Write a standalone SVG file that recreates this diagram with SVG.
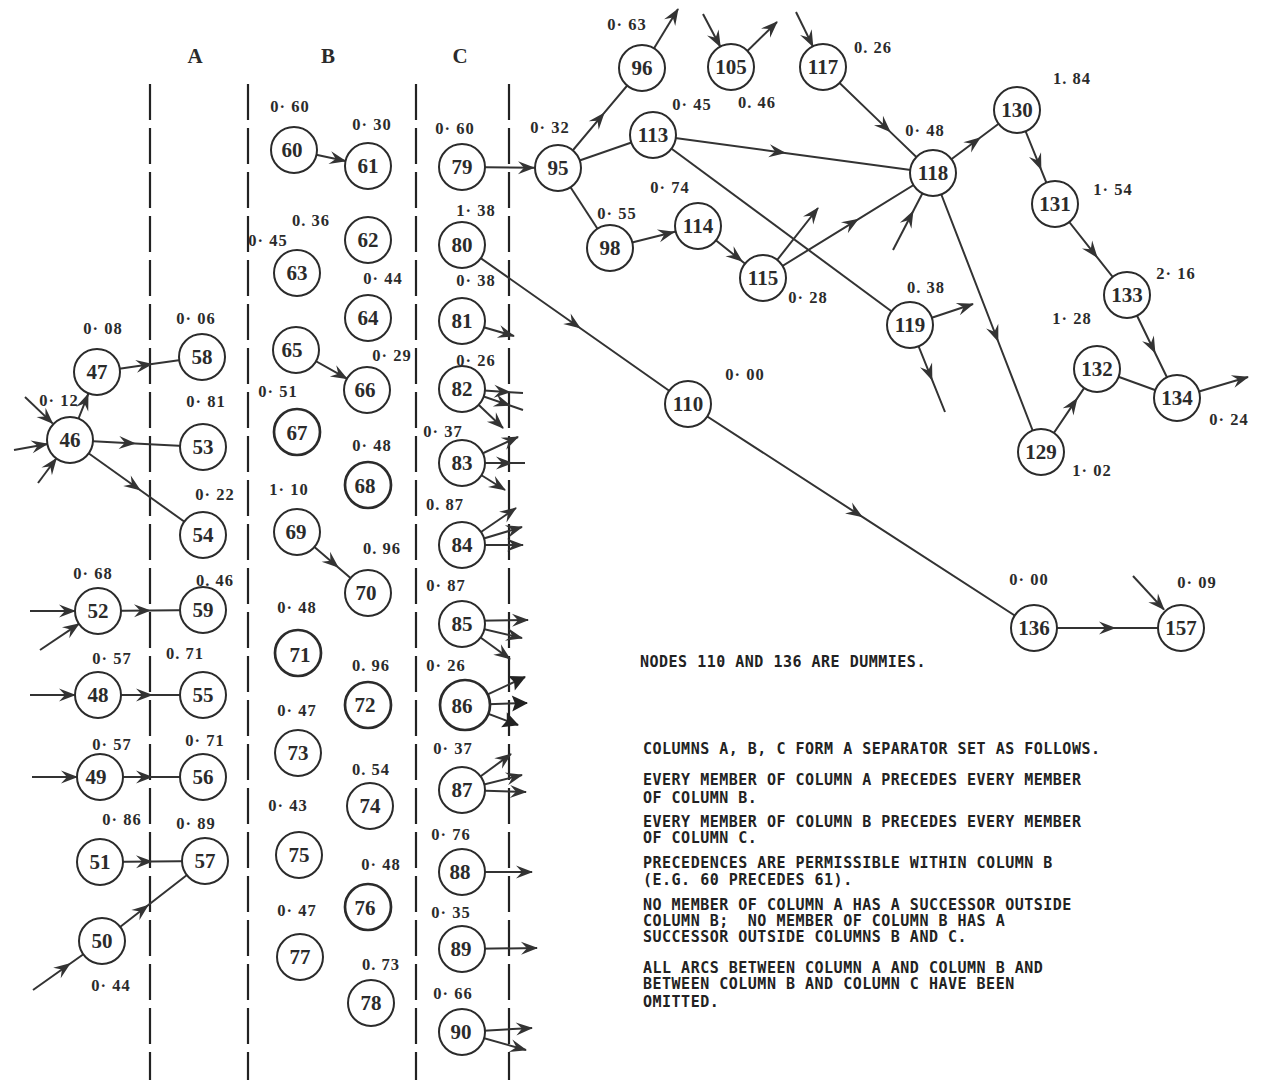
<svg xmlns="http://www.w3.org/2000/svg" width="1262" height="1080" viewBox="0 0 1262 1080">
<style>
.n circle{fill:#fff;stroke:#2b2b2b;stroke-width:2}
.n.t circle{stroke-width:2.7}
.n text{font-family:"Liberation Serif",serif;font-weight:bold;font-size:21px;fill:#2b2b2b;text-anchor:middle}
.e{fill:none;stroke:#333;stroke-width:2}
.m{marker-mid:url(#ah)}
.x{marker-end:url(#ah)}
.xb{marker-end:url(#ab)}
.w{font-family:"Liberation Serif",serif;font-weight:bold;font-size:16.5px;fill:#2b2b2b;text-anchor:middle;letter-spacing:1px}
.col{font-family:"Liberation Serif",serif;font-weight:bold;font-size:21px;fill:#2b2b2b;text-anchor:middle}
.d{stroke:#222;stroke-width:2.2;stroke-dasharray:36 8;fill:none}
.note{font-family:"DejaVu Sans Mono",monospace;font-weight:bold;font-size:15px;fill:#222;letter-spacing:0.5px}
</style>
<defs>
<marker id="ah" viewBox="-18 -9 20 18" refX="0" refY="0" markerWidth="20" markerHeight="18" markerUnits="userSpaceOnUse" orient="auto"><path d="M1,0 L-16,-6.5 L-10,0 L-16,6.5 Z" fill="#333"/></marker>
<marker id="ab" viewBox="-18 -10 20 20" refX="0" refY="0" markerWidth="20" markerHeight="20" markerUnits="userSpaceOnUse" orient="auto"><path d="M1,0 L-15,-8 L-12,0 L-15,8 Z" fill="#222"/></marker>
</defs>
<rect width="1262" height="1080" fill="#fff"/>

<g id="columns">
<line class="d" x1="150" y1="84" x2="150" y2="1080"/>
<line class="d" x1="248" y1="84" x2="248" y2="1080"/>
<line class="d" x1="416" y1="84" x2="416" y2="1080"/>
<line class="d" x1="509" y1="84" x2="509" y2="1080"/>
<text class="col" x="195" y="63">A</text>
<text class="col" x="328" y="63">B</text>
<text class="col" x="460" y="63">C</text>
</g>

<g id="connectors">
<path class="e m" d="M70,440 L88.1,394.3 L97,372"/>
<path class="e m" d="M97,372 L152,364.1 L202,357"/>
<path class="e m" d="M70,440 L135,443.4 L203,447"/>
<path class="e m" d="M70,440 L140,490 L203,535"/>
<path class="e x" d="M25,397 L52.6,423.4"/>
<path class="e x" d="M14,450 L47.4,444"/>
<path class="e x" d="M38,483 L56.3,458.5"/>
<path class="e m" d="M98,611 L150,610.5 L203,610"/>
<path class="e x" d="M30,611 L75,611"/>
<path class="e x" d="M40,650 L78.9,623.8"/>
<path class="e m" d="M98,695 L152,695 L203,695"/>
<path class="e x" d="M30,695 L75,695"/>
<path class="e m" d="M100,777 L152,777 L203,777"/>
<path class="e x" d="M32,777 L77,777"/>
<path class="e m" d="M100,862 L152,861.5 L205,861"/>
<path class="e m" d="M102,941 L148,905.3 L205,861"/>
<path class="e m" d="M33,990 L70,963.7 L102,941"/>

<path class="e m" d="M294,150 L345.5,161.1 L368,166"/>
<path class="e m" d="M296,350 L347,378.7 L367,390"/>
<path class="e m" d="M297,532 L338,567.2 L368,593"/>

<path class="e m" d="M462,167 L534,167.8 L558,168"/>
<path class="e m" d="M462,245 L580,328 L688,404"/>
<path class="e x" d="M462,321 L514,336"/>
<path class="e m" d="M462,389 L510,392.2 L523,393"/>
<path class="e m" d="M462,389 L510,405.5 L523,410"/>
<path class="e x" d="M462,389 L503,428"/>
<path class="e x" d="M462,463 L518,437"/>
<path class="e m" d="M462,463 L512,463 L525,463"/>
<path class="e x" d="M462,463 L505,490"/>
<path class="e x" d="M462,545 L516,508"/>
<path class="e x" d="M462,545 L522,527"/>
<path class="e x" d="M462,545 L523,545"/>
<path class="e x" d="M462,621 L528,620"/>
<path class="e x" d="M462,624 L522,638"/>
<path class="e x" d="M462,624 L510,659"/>
<path class="e xb" d="M465,705 L525,677"/>
<path class="e xb" d="M465,705 L527,703"/>
<path class="e xb" d="M465,705 L518,725"/>
<path class="e x" d="M462,790 L511,754"/>
<path class="e x" d="M462,790 L522,775"/>
<path class="e x" d="M462,790 L526,792"/>
<path class="e x" d="M462,872 L532,872"/>
<path class="e x" d="M462,949 L537,948"/>
<path class="e x" d="M462,1032 L532,1028"/>
<path class="e x" d="M462,1032 L526,1050"/>

<path class="e m" d="M558,168 L604,113.2 L642,68"/>
<path class="e" d="M558,168 L653,135"/>
<path class="e" d="M558,168 L610,248"/>
<path class="e x" d="M642,68 L678,9"/>
<path class="e x" d="M703,14 L720.3,46.7"/>
<path class="e x" d="M731,67 L777,22"/>
<path class="e x" d="M796,12 L812.9,46.4"/>
<path class="e m" d="M823,67 L890,131.6 L933,173"/>
<path class="e m" d="M653,135 L785,152.9 L933,173"/>
<path class="e" d="M653,135 L910,325"/>
<path class="e m" d="M610,248 L674,232 L698,226"/>
<path class="e m" d="M698,226 L742,261.2 L763,278"/>
<path class="e x" d="M763,278 L818,208"/>
<path class="e m" d="M763,278 L858,219.3 L933,173"/>
<path class="e m" d="M893,250 L913,211.5 L933,173"/>
<path class="e m" d="M933,173 L980,137.8 L1017,110"/>
<path class="e m" d="M1017,110 L1041,169.4 L1055,204"/>
<path class="e m" d="M1055,204 L1097,257.1 L1127,295"/>
<path class="e m" d="M1127,295 L1155,352.7 L1177,398"/>
<path class="e" d="M1097,369 L1177,398"/>
<path class="e x" d="M1177,398 L1248,377"/>
<path class="e m" d="M1041,452 L1077,398.6 L1097,369"/>
<path class="e m" d="M933,173 L998,341 L1041,452"/>
<path class="e x" d="M910,325 L973,304"/>
<path class="e m" d="M910,325 L932,379.7 L945,412"/>
<path class="e m" d="M688,404 L862,516.7 L1034,628"/>
<path class="e m" d="M1034,628 L1115,628 L1181,628"/>
<path class="e x" d="M1133,576 L1164,609.6"/>
</g>

<g id="n46" class="n"><circle cx="70" cy="440" r="23"/><text x="70" y="447">46</text></g>
<g id="n47" class="n"><circle cx="97" cy="372" r="23"/><text x="97" y="379">47</text></g>
<g id="n58" class="n"><circle cx="202" cy="357" r="23"/><text x="202" y="364">58</text></g>
<g id="n53" class="n"><circle cx="203" cy="447" r="23"/><text x="203" y="454">53</text></g>
<g id="n54" class="n"><circle cx="203" cy="535" r="23"/><text x="203" y="542">54</text></g>
<g id="n52" class="n"><circle cx="98" cy="611" r="23"/><text x="98" y="618">52</text></g>
<g id="n59" class="n"><circle cx="203" cy="610" r="23"/><text x="203" y="617">59</text></g>
<g id="n48" class="n"><circle cx="98" cy="695" r="23"/><text x="98" y="702">48</text></g>
<g id="n55" class="n"><circle cx="203" cy="695" r="23"/><text x="203" y="702">55</text></g>
<g id="n49" class="n"><circle cx="100" cy="777" r="23"/><text x="96" y="784">49</text></g>
<g id="n56" class="n"><circle cx="203" cy="777" r="23"/><text x="203" y="784">56</text></g>
<g id="n51" class="n"><circle cx="100" cy="862" r="23"/><text x="100" y="869">51</text></g>
<g id="n57" class="n"><circle cx="205" cy="861" r="23"/><text x="205" y="868">57</text></g>
<g id="n50" class="n"><circle cx="102" cy="941" r="23"/><text x="102" y="948">50</text></g>

<g id="n60" class="n"><circle cx="294" cy="150" r="23"/><text x="292" y="157">60</text></g>
<g id="n61" class="n"><circle cx="368" cy="166" r="23"/><text x="368" y="173">61</text></g>
<g id="n62" class="n"><circle cx="368" cy="240" r="23"/><text x="368" y="247">62</text></g>
<g id="n63" class="n"><circle cx="297" cy="273" r="23"/><text x="297" y="280">63</text></g>
<g id="n64" class="n"><circle cx="368" cy="318" r="23"/><text x="368" y="325">64</text></g>
<g id="n65" class="n"><circle cx="296" cy="350" r="23"/><text x="292" y="357">65</text></g>
<g id="n66" class="n"><circle cx="367" cy="390" r="23"/><text x="365" y="397">66</text></g>
<g id="n67" class="n t"><circle cx="297" cy="432" r="23"/><text x="297" y="440">67</text></g>
<g id="n68" class="n t"><circle cx="368" cy="485" r="23"/><text x="365" y="493">68</text></g>
<g id="n69" class="n"><circle cx="297" cy="532" r="23"/><text x="296" y="539">69</text></g>
<g id="n70" class="n"><circle cx="368" cy="593" r="23"/><text x="366" y="600">70</text></g>
<g id="n71" class="n t"><circle cx="298" cy="653" r="23"/><text x="300" y="662">71</text></g>
<g id="n72" class="n t"><circle cx="368" cy="705" r="23"/><text x="365" y="712">72</text></g>
<g id="n73" class="n"><circle cx="298" cy="753" r="23"/><text x="298" y="760">73</text></g>
<g id="n74" class="n"><circle cx="370" cy="806" r="23"/><text x="370" y="813">74</text></g>
<g id="n75" class="n"><circle cx="299" cy="855" r="23"/><text x="299" y="862">75</text></g>
<g id="n76" class="n t"><circle cx="368" cy="907" r="23"/><text x="365" y="915">76</text></g>
<g id="n77" class="n"><circle cx="300" cy="957" r="23"/><text x="300" y="964">77</text></g>
<g id="n78" class="n"><circle cx="371" cy="1003" r="23"/><text x="371" y="1010">78</text></g>

<g id="n79" class="n"><circle cx="462" cy="167" r="23"/><text x="462" y="174">79</text></g>
<g id="n80" class="n"><circle cx="462" cy="245" r="23"/><text x="462" y="252">80</text></g>
<g id="n81" class="n"><circle cx="462" cy="321" r="23"/><text x="462" y="328">81</text></g>
<g id="n82" class="n"><circle cx="462" cy="389" r="23"/><text x="462" y="396">82</text></g>
<g id="n83" class="n"><circle cx="462" cy="463" r="23"/><text x="462" y="470">83</text></g>
<g id="n84" class="n"><circle cx="462" cy="545" r="23"/><text x="462" y="552">84</text></g>
<g id="n85" class="n"><circle cx="462" cy="624" r="23"/><text x="462" y="631">85</text></g>
<g id="n86" class="n t"><circle cx="465" cy="705" r="25"/><text x="462" y="713">86</text></g>
<g id="n87" class="n"><circle cx="462" cy="790" r="23"/><text x="462" y="797">87</text></g>
<g id="n88" class="n"><circle cx="462" cy="872" r="23"/><text x="460" y="879">88</text></g>
<g id="n89" class="n"><circle cx="462" cy="949" r="23"/><text x="461" y="956">89</text></g>
<g id="n90" class="n"><circle cx="462" cy="1032" r="23"/><text x="461" y="1039">90</text></g>

<g id="n95" class="n"><circle cx="558" cy="168" r="23"/><text x="558" y="175">95</text></g>
<g id="n96" class="n"><circle cx="642" cy="68" r="23"/><text x="642" y="75">96</text></g>
<g id="n105" class="n"><circle cx="731" cy="67" r="23"/><text x="731" y="74">105</text></g>
<g id="n117" class="n"><circle cx="823" cy="67" r="23"/><text x="823" y="74">117</text></g>
<g id="n113" class="n"><circle cx="653" cy="135" r="23"/><text x="653" y="142">113</text></g>
<g id="n98" class="n"><circle cx="610" cy="248" r="23"/><text x="610" y="255">98</text></g>
<g id="n114" class="n"><circle cx="698" cy="226" r="23"/><text x="698" y="233">114</text></g>
<g id="n115" class="n"><circle cx="763" cy="278" r="23"/><text x="763" y="285">115</text></g>
<g id="n118" class="n"><circle cx="933" cy="173" r="23"/><text x="933" y="180">118</text></g>
<g id="n119" class="n"><circle cx="910" cy="325" r="23"/><text x="910" y="332">119</text></g>
<g id="n110" class="n"><circle cx="688" cy="404" r="23"/><text x="688" y="411">110</text></g>
<g id="n130" class="n"><circle cx="1017" cy="110" r="23"/><text x="1017" y="117">130</text></g>
<g id="n131" class="n"><circle cx="1055" cy="204" r="23"/><text x="1055" y="211">131</text></g>
<g id="n133" class="n"><circle cx="1127" cy="295" r="23"/><text x="1127" y="302">133</text></g>
<g id="n132" class="n"><circle cx="1097" cy="369" r="23"/><text x="1097" y="376">132</text></g>
<g id="n134" class="n"><circle cx="1177" cy="398" r="23"/><text x="1177" y="405">134</text></g>
<g id="n129" class="n"><circle cx="1041" cy="452" r="23"/><text x="1041" y="459">129</text></g>
<g id="n136" class="n"><circle cx="1034" cy="628" r="23"/><text x="1034" y="635">136</text></g>
<g id="n157" class="n"><circle cx="1181" cy="628" r="23"/><text x="1181" y="635">157</text></g>

<g id="weights">
<text class="w" x="103" y="334">0· 08</text>
<text class="w" x="196" y="324">0· 06</text>
<text class="w" x="59" y="406">0· 12</text>
<text class="w" x="206" y="407">0· 81</text>
<text class="w" x="215" y="500">0· 22</text>
<text class="w" x="93" y="579">0· 68</text>
<text class="w" x="215" y="586">0. 46</text>
<text class="w" x="112" y="664">0· 57</text>
<text class="w" x="185" y="659">0. 71</text>
<text class="w" x="112" y="750">0· 57</text>
<text class="w" x="205" y="746">0· 71</text>
<text class="w" x="122" y="825">0· 86</text>
<text class="w" x="196" y="829">0· 89</text>
<text class="w" x="111" y="991">0· 44</text>

<text class="w" x="290" y="112">0· 60</text>
<text class="w" x="372" y="130">0· 30</text>
<text class="w" x="311" y="226">0. 36</text>
<text class="w" x="268" y="246">0· 45</text>
<text class="w" x="383" y="284">0· 44</text>
<text class="w" x="392" y="361">0· 29</text>
<text class="w" x="278" y="397">0· 51</text>
<text class="w" x="372" y="451">0· 48</text>
<text class="w" x="289" y="495">1· 10</text>
<text class="w" x="382" y="554">0. 96</text>
<text class="w" x="297" y="613">0· 48</text>
<text class="w" x="371" y="671">0. 96</text>
<text class="w" x="297" y="716">0· 47</text>
<text class="w" x="371" y="775">0. 54</text>
<text class="w" x="288" y="811">0· 43</text>
<text class="w" x="381" y="870">0· 48</text>
<text class="w" x="297" y="916">0· 47</text>
<text class="w" x="381" y="970">0. 73</text>

<text class="w" x="455" y="134">0· 60</text>
<text class="w" x="476" y="216">1· 38</text>
<text class="w" x="476" y="286">0· 38</text>
<text class="w" x="476" y="366">0· 26</text>
<text class="w" x="443" y="437">0· 37</text>
<text class="w" x="445" y="510">0. 87</text>
<text class="w" x="446" y="591">0· 87</text>
<text class="w" x="446" y="671">0· 26</text>
<text class="w" x="453" y="754">0· 37</text>
<text class="w" x="451" y="840">0· 76</text>
<text class="w" x="451" y="918">0· 35</text>
<text class="w" x="453" y="999">0· 66</text>

<text class="w" x="550" y="133">0· 32</text>
<text class="w" x="627" y="30">0· 63</text>
<text class="w" x="692" y="110">0· 45</text>
<text class="w" x="757" y="108">0. 46</text>
<text class="w" x="873" y="53">0. 26</text>
<text class="w" x="670" y="193">0· 74</text>
<text class="w" x="617" y="219">0· 55</text>
<text class="w" x="808" y="303">0· 28</text>
<text class="w" x="925" y="136">0· 48</text>
<text class="w" x="926" y="293">0. 38</text>
<text class="w" x="1072" y="84">1. 84</text>
<text class="w" x="1113" y="195">1· 54</text>
<text class="w" x="1176" y="279">2· 16</text>
<text class="w" x="1072" y="324">1· 28</text>
<text class="w" x="1092" y="476">1· 02</text>
<text class="w" x="1229" y="425">0· 24</text>
<text class="w" x="745" y="380">0· 00</text>
<text class="w" x="1029" y="585">0· 00</text>
<text class="w" x="1197" y="588">0· 09</text>
</g>

<g id="notes">
<text class="note" x="640" y="667">NODES 110 AND 136 ARE DUMMIES.</text>
<text class="note" x="643" y="754">COLUMNS A, B, C FORM A SEPARATOR SET AS FOLLOWS.</text>
<text class="note" x="643" y="785">EVERY MEMBER OF COLUMN A PRECEDES EVERY MEMBER</text>
<text class="note" x="643" y="803">OF COLUMN B.</text>
<text class="note" x="643" y="827">EVERY MEMBER OF COLUMN B PRECEDES EVERY MEMBER</text>
<text class="note" x="643" y="843">OF COLUMN C.</text>
<text class="note" x="643" y="868">PRECEDENCES ARE PERMISSIBLE WITHIN COLUMN B</text>
<text class="note" x="643" y="885">(E.G. 60 PRECEDES 61).</text>
<text class="note" x="643" y="910">NO MEMBER OF COLUMN A HAS A SUCCESSOR OUTSIDE</text>
<text class="note" x="643" y="926" xml:space="preserve">COLUMN B;  NO MEMBER OF COLUMN B HAS A</text>
<text class="note" x="643" y="942">SUCCESSOR OUTSIDE COLUMNS B AND C.</text>
<text class="note" x="643" y="973">ALL ARCS BETWEEN COLUMN A AND COLUMN B AND</text>
<text class="note" x="643" y="989">BETWEEN COLUMN B AND COLUMN C HAVE BEEN</text>
<text class="note" x="643" y="1007">OMITTED.</text>
</g>
</svg>
